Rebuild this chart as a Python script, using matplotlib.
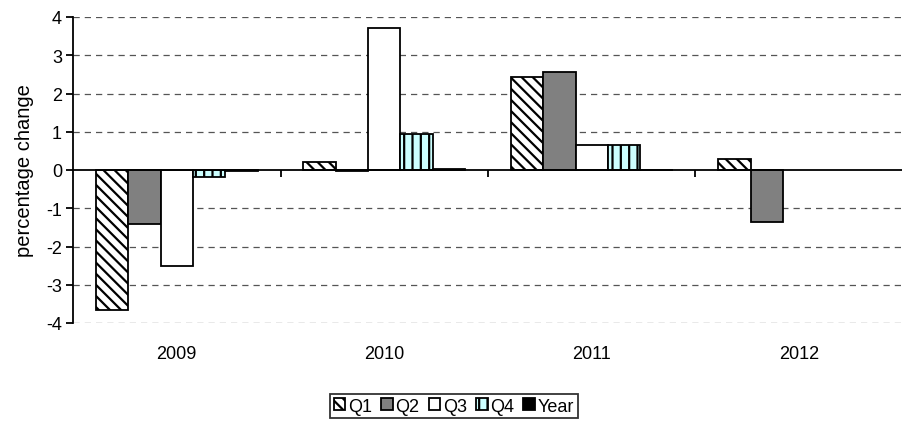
import matplotlib
matplotlib.use("Agg")
import matplotlib.pyplot as plt
import numpy as np

plt.rcParams['font.family'] = ['Liberation Sans', 'DejaVu Sans']
plt.rcParams['hatch.linewidth'] = 1.6

years = ['2009', '2010', '2011', '2012']
series = ['Q1', 'Q2', 'Q3', 'Q4', 'Year']
q1 = [-3.65, 0.22, 2.42, 0.29]
q2 = [-1.40, -0.02, 2.56, -1.36]
q3 = [-2.52, 3.72, 0.65, np.nan]
q4 = [-0.17, 0.95, 0.65, np.nan]
yr = [-0.02, 0.02, 0.01, np.nan]
yticks = [-4, -3, -2, -1, 0, 1, 2, 3, 4]

FS = 13
fig = plt.figure(figsize=(9.03, 4.31), dpi=100)
ax = fig.add_axes([73/903, 1-324/431, 1-73/903, (324-18)/431])

colors = ['white', '#808080', 'white', '#CCFFFF', 'black']
hatches = ['\\\\\\', None, None, '||', None]
data = [q1, q2, q3, q4, yr]
w = 0.156
x = np.arange(len(years))
handles = []
for i, (vals, c, h, lab) in enumerate(zip(data, colors, hatches, series)):
    off = (i - 2) * w
    b = ax.bar(x + off, vals, w, color=c, edgecolor='black', linewidth=1.3,
               hatch=h, label=lab, zorder=3)
    handles.append(b)

ax.set_ylim(-4, 4)
ax.set_xlim(-0.5, -0.5 + (903 - 73) / 208.5)
ax.set_yticks(yticks)
ax.set_yticklabels([str(t) for t in yticks], fontsize=FS)
for t in yticks:
    if t != 0:
        ax.axhline(t, color='#555555', linestyle=(0, (5, 4)), linewidth=0.9, zorder=1)

for s in ['top', 'right']:
    ax.spines[s].set_visible(False)
ax.spines['left'].set_linewidth(1.3)
ax.spines['bottom'].set_position(('data', 0))
ax.spines['bottom'].set_linewidth(1.3)
ax.spines['bottom'].set_zorder(4)
ax.tick_params(axis='y', direction='out', length=5, width=1.3, pad=3)
ax.set_xticks(x + 0.5)
ax.set_xticklabels([])
ax.tick_params(axis='x', direction='out', length=5, width=1.3)
for xi, lab in zip(x, years):
    ax.annotate(lab, xy=(xi, -4), xycoords='data', xytext=(0, -16),
                textcoords='offset points', ha='center', va='top', fontsize=FS)

ax.set_ylabel('percentage change', fontsize=14.5, labelpad=9)

leg = fig.legend(handles=handles, labels=series, loc='upper left',
                 bbox_to_anchor=(330/903, 1-395/431), ncol=5, fontsize=FS,
                 frameon=True, fancybox=False, edgecolor='black',
                 handlelength=0.65, handleheight=0.65, handletextpad=0.15,
                 columnspacing=0.5, borderpad=0.2, borderaxespad=0)
leg.get_frame().set_linewidth(1.3)

fig.savefig('out.png', dpi=100)
